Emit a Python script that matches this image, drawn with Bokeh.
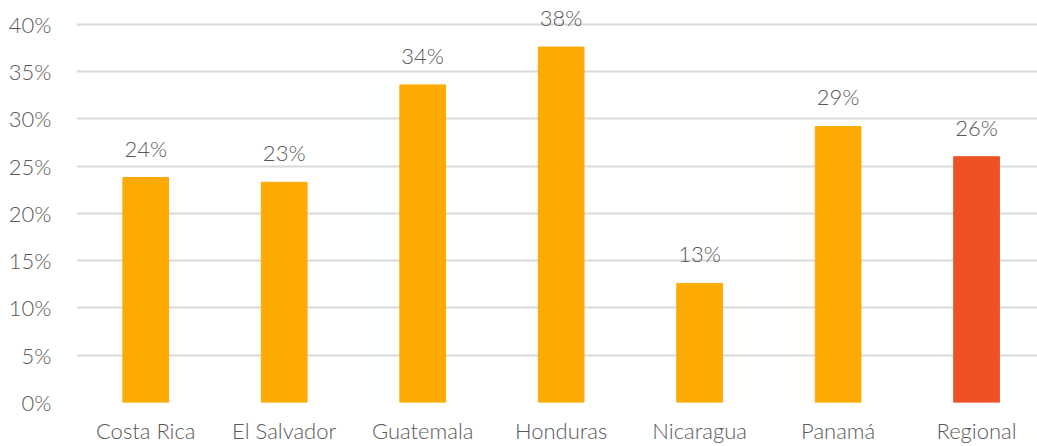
from bokeh.plotting import figure
from bokeh.models import ColumnDataSource, NumeralTickFormatter, FixedTicker, Range1d
from bokeh.embed import file_html
from bokeh.resources import INLINE
from bokeh.core.properties import value

countries = ["Costa Rica", "El Salvador", "Guatemala", "Honduras", "Nicaragua", "Panamá", "Regional"]
shares = [0.238, 0.233, 0.336, 0.376, 0.126, 0.292, 0.260]
labels = ["24%", "23%", "34%", "38%", "13%", "29%", "26%"]
colors = ["#FDAA05", "#FDAA05", "#FDAA05", "#FDAA05", "#FDAA05", "#FDAA05", "#EE5125"]
yticks = [0, 0.05, 0.10, 0.15, 0.20, 0.25, 0.30, 0.35, 0.40]

# category slots on a numeric axis (slot centres at i + 0.5)
xpos = [i + 0.5 for i in range(len(countries))]

src = ColumnDataSource(dict(x=xpos, y=shares, lab=labels, c=colors))

FONT = "'Lato Light', Lato"
TXT = "#595959"

p = figure(x_range=Range1d(0, 6.94), y_range=Range1d(0, 0.42), width=1037, height=446,
           output_backend="svg", toolbar_location=None,
           min_border_left=76, min_border_right=0, min_border_top=5, min_border_bottom=40)
p.outline_line_color = None

p.vbar(x="x", top="y", width=0.33, color="c", source=src)
p.text(x="x", y="y", text="lab", source=src, text_align="center", text_baseline="bottom",
       y_offset=-16, text_font=value(FONT), text_font_size="22px", text_color=TXT)

p.xgrid.grid_line_color = None
p.ygrid.grid_line_color = "#D9D9D9"
p.ygrid.grid_line_width = 2

p.xaxis.ticker = FixedTicker(ticks=xpos)
p.xaxis.major_label_overrides = {x: c for x, c in zip(xpos, countries)}
p.yaxis.ticker = FixedTicker(ticks=yticks)
p.yaxis.formatter = NumeralTickFormatter(format="0%")
for ax in (p.xaxis, p.yaxis):
    ax.axis_line_color = None
    ax.major_tick_line_color = None
    ax.minor_tick_line_color = None
    ax.major_label_text_font = FONT
    ax.major_label_text_font_size = "22px"
    ax.major_label_text_color = TXT
p.yaxis.major_label_standoff = 19
p.xaxis.major_label_standoff = 8

open("out.html", "w").write(file_html(p, INLINE))
